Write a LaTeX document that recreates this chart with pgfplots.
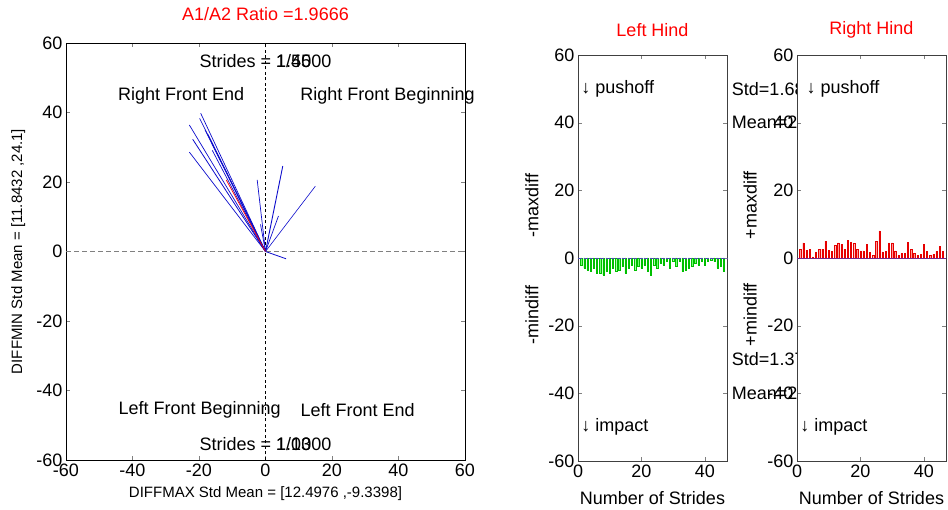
\documentclass[border=0pt]{standalone}
\usepackage{fontspec}
\setmainfont{Liberation Sans}
\usepackage{pgfplots}
\usepackage{pgfplotstable}
\pgfplotsset{compat=1.18}
\newcommand\F{\fontsize{18bp}{21bp}\selectfont}
\newcommand\G{\fontsize{15bp}{18bp}\selectfont}
\definecolor{mblue}{rgb}{0.05,0.05,0.8}

\pgfplotstableread{
x y
1 -2
2 -3
3 -3.5
4 -4
5 -3
6 -4.5
7 -4.5
8 -5
9 -4
10 -4.5
11 -3
12 -4
13 -3.5
14 -2.5
15 -4.5
16 -3
17 -2
18 -3.5
19 -2.5
20 -3
21 -2
22 -4
23 -5
24 -2
25 -3
26 -1.5
27 -2
28 -1
29 -3
30 -1
31 -2.5
32 -1
33 -4
34 -3.5
35 -3
36 -2.5
37 -1.5
38 -2
39 -1
40 -2
41 -1
42 -0.5
43 -1
44 -3
45 -2.5
46 -4
}\lefthind

\pgfplotstableread{
x y
1 2.5
2 4.5
3 2.3
4 2.6
5 0.3
6 1.8
7 2.5
8 2.6
9 5
10 2.3
11 2
12 3.8
13 4.5
14 4
15 2.6
16 5.2
17 4.7
18 4.3
19 2.5
20 2.1
21 2.1
22 4
23 1.6
24 0.7
25 5
26 8
27 1.8
28 2
29 4.5
30 4.5
31 2.1
32 0.7
33 1.3
34 1.3
35 4.7
36 2.5
37 1.3
38 0.7
39 1
40 4
41 2
42 0.7
43 1
44 2
45 3.5
46 2
}\righthind

\pgfplotsset{
  common/.style={
    scale only axis,
    anchor=south west,
    /pgf/number format/assume math mode=true,
    tick label style={font=\F},
    tick align=inside,
    major tick length=4bp,
    axis background/.style={fill=white},
    clip=false,
  },
  hind/.style={
    common,
    width=149bp, height=406bp,
    xmin=0, xmax=47, ymin=-60, ymax=60,
    xtick={0,20,40}, ytick={-60,-40,...,60},
    axis line style={black!75},
    title style={font=\F, text=red, at={(axis description cs:0.5,1.047)}, anchor=center},
    xlabel={Number of Strides},
    xlabel style={font=\F, at={(axis description cs:0.5,-0.091)}, anchor=center},
  }
}

\begin{document}
\begin{tikzpicture}
% ---------------- main plot
\begin{axis}[common,
  at={(66bp,50bp)}, width=399bp, height=417bp,
  xmin=-60, xmax=60, ymin=-60, ymax=60,
  xtick={-60,-40,...,60}, ytick={-60,-40,...,60},
  title={A1/A2 Ratio =1.9666},
  title style={font=\F, text=red, at={(axis description cs:0.5,1.055)}, anchor=center},
  xlabel={DIFFMAX Std Mean = [12.4976 ,-9.3398]},
  xlabel style={font=\G, at={(axis description cs:0.5,-0.0815)}, anchor=center},
  ylabel={DIFFMIN Std Mean = [11.8432 ,24.1]},
  ylabel style={font=\G, at={(axis description cs:-0.12,0.5)}, anchor=center},
]
\addplot[gray, dash pattern=on 5bp off 3bp, line width=0.6bp] coordinates {(-60,0) (60,0)};
\addplot[black, dash pattern=on 3bp off 2.5bp, line width=0.6bp] coordinates {(0,-60) (0,60)};
\addplot[mblue, line width=0.7bp] coordinates {(0,0) (-19.5,39.8)};
\addplot[mblue, line width=0.7bp] coordinates {(0,0) (-22.9,36.4)};
\addplot[mblue, line width=0.7bp] coordinates {(0,0) (-19.8,38.3)};
\addplot[mblue, line width=0.8bp] coordinates {(0,0) (-21.9,32.3)};
\addplot[mblue, line width=0.7bp] coordinates {(0,0) (-22.9,28.6)};
\addplot[mblue, line width=0.8bp] coordinates {(0,0) (-17.3,33.7)};
\addplot[mblue, line width=0.7bp] coordinates {(0,0) (-16.0,29.1)};
\addplot[mblue, line width=0.7bp] coordinates {(0,0) (-18.2,35.0)};
\addplot[mblue, line width=0.7bp] coordinates {(0,0) (-2.5,20.6)};
\addplot[mblue, line width=0.9bp] coordinates {(0,0) (5.2,24.6)};
\addplot[mblue, line width=0.7bp] coordinates {(0,0) (3.9,10.2)};
\addplot[mblue, line width=0.7bp] coordinates {(0,0) (-1.5,7.8)};
\addplot[mblue, line width=0.6bp] coordinates {(0,0) (15.0,18.8)};
\addplot[mblue, line width=0.8bp] coordinates {(0,0) (6.2,-2.1)};
\addplot[red, line width=0.7bp] coordinates {(0,0) (-11.8,20.6)};
\node[font=\F] at (axis cs:-25.4,44.7) {Right Front End};
\node[font=\F] at (axis cs:36.7,44.7) {Right Front Beginning};
\node[font=\F] at (axis cs:-19.8,-45.6) {Left Front Beginning};
\node[font=\F] at (axis cs:27.7,-45.6) {Left Front End};
\node[font=\F, anchor=west, inner sep=0pt] at (axis cs:-19.85,54.8) {Strides = 1/45};
\node[font=\F, anchor=west, inner sep=0pt] at (axis cs:-19.85,54.8) {\phantom{Strides = }1.5000};
\node[font=\F, anchor=west, inner sep=0pt] at (axis cs:-19.85,-55.4) {Strides = 1/13};
\node[font=\F, anchor=west, inner sep=0pt] at (axis cs:-19.85,-55.4) {\phantom{Strides = }1.0000};
\end{axis}

% ---------------- Left Hind
\begin{axis}[hind, at={(578bp,49bp)}, title={Left Hind}]
\addplot[ybar, bar width=0.4, fill=green!55, draw=green!75!black, line width=0.35bp] table[x=x,y=y] {\lefthind};
\addplot[blue!40!gray, dash pattern=on 4bp off 1.5bp, line width=0.6bp] coordinates {(0,0) (47,0)};
\node[font=\F, anchor=west, inner sep=0pt] at (axis cs:1,50) {↓ pushoff};
\node[font=\F, anchor=west, inner sep=0pt] at (axis cs:1,-50) {↓ impact};
\node[font=\F, anchor=west, inner sep=0pt] at (axis cs:48.5,50) {Std=1.6834};
\node[font=\F, anchor=west, inner sep=0pt] at (axis cs:48.5,40) {Mean=2.2137};
\node[font=\F, anchor=west, inner sep=0pt] at (axis cs:48.5,-30) {Std=1.3729};
\node[font=\F, anchor=west, inner sep=0pt] at (axis cs:48.5,-40) {Mean=2.0214};
\node[font=\F, rotate=90] at (axis description cs:-0.31,0.63) {-maxdiff};
\node[font=\F, rotate=90] at (axis description cs:-0.31,0.36) {-mindiff};
\end{axis}

% ---------------- Right Hind
\begin{axis}[hind, at={(797bp,49bp)}, title={Right Hind}]
\addplot[ybar, bar width=0.4, fill=red!40, draw=red!90!black, line width=0.35bp] table[x=x,y=y] {\righthind};
\addplot[blue!55!red!70!gray, line width=0.6bp] coordinates {(0,0) (47,0)};
\node[font=\F, anchor=west, inner sep=0pt] at (axis cs:3,50) {↓ pushoff};
\node[font=\F, anchor=west, inner sep=0pt] at (axis cs:1,-50) {↓ impact};
\node[font=\F, rotate=90] at (axis description cs:-0.315,0.63) {+maxdiff};
\node[font=\F, rotate=90] at (axis description cs:-0.315,0.36) {+mindiff};
\end{axis}

\pgfresetboundingbox
\useasboundingbox (0,0) rectangle (948bp,510bp);
\end{tikzpicture}
\end{document}
